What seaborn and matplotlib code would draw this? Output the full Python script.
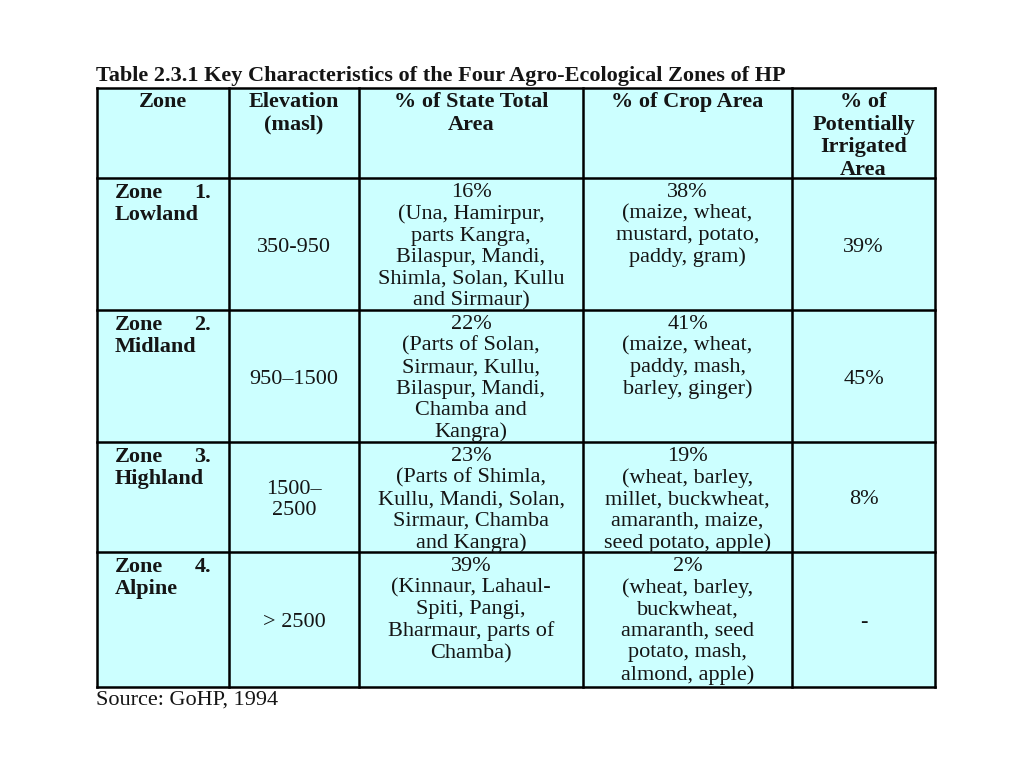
import matplotlib
matplotlib.use("Agg")
import matplotlib.pyplot as plt
import seaborn as sns
import numpy as np

# ---- data ----
title = "Table 2.3.1 Key Characteristics of the Four Agro-Ecological Zones of HP"
headers = ["Zone", "Elevation\n(masl)", "% of State Total\nArea", "% of Crop Area",
           "% of\nPotentially\nIrrigated\nArea"]
zone_numbers = ["1.", "2.", "3.", "4."]
zone_names = ["Lowland", "Midland", "Highland", "Alpine"]
elevations = ["350-950", "950\u20131500", "1500\u2013\n2500", "> 2500"]
state_area = [
    "16%\n(Una, Hamirpur,\nparts Kangra,\nBilaspur, Mandi,\nShimla, Solan, Kullu\nand Sirmaur)",
    "22%\n(Parts of Solan,\nSirmaur, Kullu,\nBilaspur, Mandi,\nChamba and\nKangra)",
    "23%\n(Parts of Shimla,\nKullu, Mandi, Solan,\nSirmaur, Chamba\nand Kangra)",
    "39%\n(Kinnaur, Lahaul-\nSpiti, Pangi,\nBharmaur, parts of\nChamba)",
]
crop_area = [
    "38%\n(maize, wheat,\nmustard, potato,\npaddy, gram)",
    "41%\n(maize, wheat,\npaddy, mash,\nbarley, ginger)",
    "19%\n(wheat, barley,\nmillet, buckwheat,\namaranth, maize,\nseed potato, apple)",
    "2%\n(wheat, barley,\nbuckwheat,\namaranth, seed\npotato, mash,\nalmond, apple)",
]
irrigated = ["39%", "45%", "8%", "-"]
source = "Source: GoHP, 1994"

# ---- layout (pixels) ----
col_edges = [97, 229, 359, 583, 792, 935]
row_edges = [88, 178, 310, 442, 552, 687]
cell_color = "#ccffff"

sns.set_theme(style="white")
plt.rcParams['font.family'] = ['Liberation Serif', 'DejaVu Serif']

fig = plt.figure(figsize=(10.24, 7.68), dpi=100)
ax = fig.add_axes([0, 0, 1, 1])
ax.set_xlim(0, 1024)
ax.set_ylim(768, 0)
ax.axis("off")

# background of table
X, Y = np.meshgrid(col_edges, row_edges)
ax.pcolormesh(X, Y, np.zeros((len(row_edges) - 1, len(col_edges) - 1)),
              cmap=matplotlib.colors.ListedColormap([cell_color]), shading="flat")
for x in col_edges:
    ax.plot([x, x], [row_edges[0], row_edges[-1]], color="black", lw=1.8, solid_capstyle="projecting")
for y in row_edges:
    ax.plot([col_edges[0], col_edges[-1]], [y, y], color="black", lw=1.8, solid_capstyle="projecting")

fs = 16
ls = 1.17
line_h = 21.7
txt = dict(color="#151515", fontsize=fs, linespacing=ls)
pad = 5

ax.text(col_edges[0] - 1, row_edges[0] - 2, title, ha="left", va="bottom",
        fontweight="bold", **txt)

centers = [(col_edges[i] + col_edges[i + 1]) / 2 for i in range(5)]
for i, h in enumerate(headers):
    ax.text(centers[i], row_edges[0] + pad - 1, h, ha="center", va="top", fontweight="bold",
            color="#151515", fontsize=fs, linespacing=1.17)

for r in range(4):
    top = row_edges[r + 1]
    bot = row_edges[r + 2]
    mid = (top + bot) / 2 + 3
    ax.text(col_edges[0] + 18, top + pad, "Zone", ha="left", va="top",
            fontweight="bold", **txt)
    ax.text(col_edges[1] - 18, top + pad, zone_numbers[r], ha="right", va="top",
            fontweight="bold", **txt)
    ax.text(col_edges[0] + 18, top + pad + line_h, zone_names[r], ha="left", va="top",
            fontweight="bold", **txt)
    ax.text(centers[1], mid, elevations[r], ha="center", va="center", **txt)
    ax.text(centers[2], top + pad, state_area[r], ha="center", va="top", **txt)
    ax.text(centers[3], top + pad, crop_area[r], ha="center", va="top", **txt)
    ax.text(centers[4], mid, irrigated[r], ha="center", va="center", **txt)

ax.text(col_edges[0] - 1, row_edges[-1] + 4, source, ha="left", va="top", **txt)

fig.savefig("out.png", dpi=100, facecolor="white")
